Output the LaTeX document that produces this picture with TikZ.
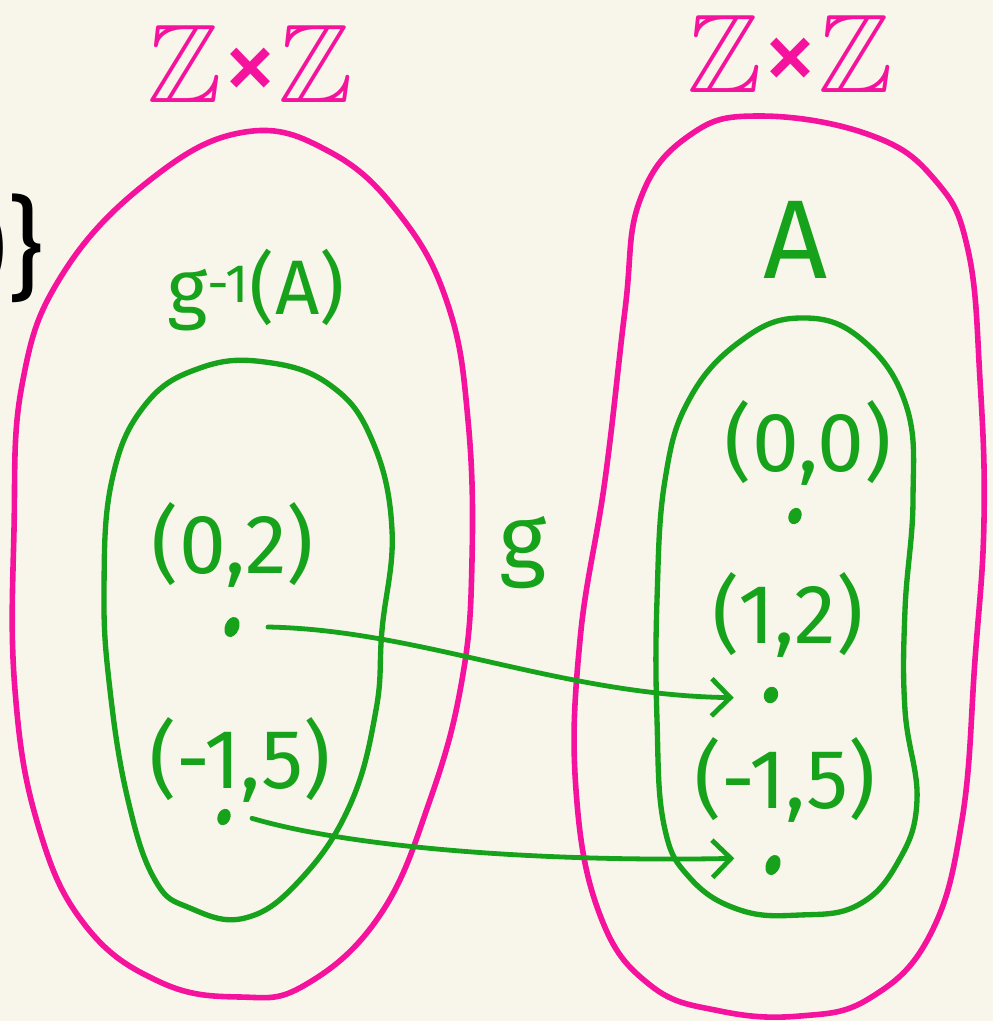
\documentclass[tikz,border=0pt]{standalone}
\usepackage{amssymb}
\usepackage{fontspec}
\setmainfont{Fira Sans}
\usetikzlibrary{arrows.meta,shapes.geometric}
\definecolor{bg}{HTML}{F8F6EA}
\definecolor{pinkpen}{HTML}{F5139E}
\definecolor{greenpen}{HTML}{16A21A}
\tikzset{
  pinkline/.style={draw=pinkpen,line width=4.2pt,line cap=round,line join=round},
  greenline/.style={draw=greenpen,line width=4pt,line cap=round,line join=round},
  greentext/.style={text=greenpen,inner sep=0pt},
  pinktext/.style={text=pinkpen,inner sep=0pt},
  coordlabel/.style={greentext,font=\fontsize{63}{63}\selectfont},
  dotmark/.style={draw=greenpen,fill=greenpen,line width=2.5pt,ellipse,minimum width=8pt,minimum height=13pt,inner sep=0pt,rotate=-22},
  maparrow/.style={draw=greenpen,line width=3.6pt,line cap=round,-{Straight Barb[length=14pt,width=28pt,line width=3.6pt]}},
}
\begin{document}
\begin{tikzpicture}[x=0.75pt,y=-0.75pt]
\fill[bg] (0,0) rectangle (993,1021);
\useasboundingbox (0,0) rectangle (993,1021);
% black fragment at left edge
\node[anchor=east,inner sep=0pt,font=\fontsize{84}{84}\selectfont] (frag) at (44,248) {)\}};
% titles
\node[pinktext,font=\fontsize{84}{84}\selectfont] (t1) at (250,64) {$\mathbb{Z}$×$\mathbb{Z}$};
\node[pinktext,font=\fontsize{84}{84}\selectfont] (t2) at (790,54) {$\mathbb{Z}$×$\mathbb{Z}$};
% left big set
\draw[pinkline] plot[smooth cycle,tension=0.7] coordinates {
 (245,132) (330,152) (400,215) (448,305) (468,420) (472,560) (462,680)
 (430,800) (380,915) (305,985) (240,997) (160,982) (85,925) (38,825)
 (15,690) (14,530) (22,385) (62,275) (150,180)};
% right big set
\draw[pinkline] plot[smooth cycle,tension=0.7] coordinates {
 (760,116) (870,135) (935,180) (968,250) (980,380) (984,520) (975,660)
 (962,820) (930,935) (870,998) (800,1016) (720,1011) (650,985) (600,915)
 (576,790) (580,640) (605,480) (625,310) (640,200) (690,135)};
% left green set
\draw[greenline] plot[smooth cycle,tension=0.7] coordinates {
 (265,362) (330,385) (372,440) (392,530) (382,630) (376,710) (350,805)
 (300,880) (245,918) (190,908) (155,880) (128,800) (110,690) (104,590)
 (112,480) (145,405) (200,368)};
% right green set
\draw[greenline] plot[smooth cycle,tension=0.7] coordinates {
 (800,318) (860,338) (906,405) (913,500) (905,610) (905,710) (917,800)
 (898,862) (858,905) (800,915) (740,910) (690,878) (664,825) (657,720)
 (657,600) (665,480) (690,398) (742,340)};
% labels
\node[greentext,font=\fontsize{58}{58}\selectfont] (ginv) at (256,290) {g\textsuperscript{-1}(A)};
\node[greentext,font=\fontsize{84}{84}\selectfont] (A) at (796,240) {A};
\node[greentext,font=\fontsize{68}{68}\selectfont] (g) at (523,553) {g};
\node[coordlabel] (l02) at (233,545) {(0,2)};
\node[coordlabel] (lm15a) at (240,760) {(-1,5)};
\node[coordlabel] (l00) at (808,443) {(0,0)};
\node[coordlabel] (l12) at (788,615) {(1,2)};
\node[coordlabel] (lm15b) at (785,780) {(-1,5)};
% points
\node[dotmark] (p02) at (232,627) {};
\node[dotmark,minimum width=7pt,minimum height=10pt] (pm15a) at (224,817) {};
\node[dotmark,minimum width=7pt,minimum height=10pt] (p00) at (795,516) {};
\node[dotmark,minimum width=8pt,minimum height=10pt] (p12) at (771,695) {};
\node[dotmark] (pm15b) at (773,865) {};
% map arrows
\draw[maparrow] ([xshift=27pt]p02.center) .. controls (420,630) and (560,695) .. ([xshift=-28pt,yshift=-2pt]p12.center);
\draw[maparrow] ([xshift=21pt,yshift=-1pt]pm15a.center) .. controls (360,850) and (560,862) .. ([xshift=-29pt,yshift=5pt]pm15b.center);
\end{tikzpicture}
\end{document}
